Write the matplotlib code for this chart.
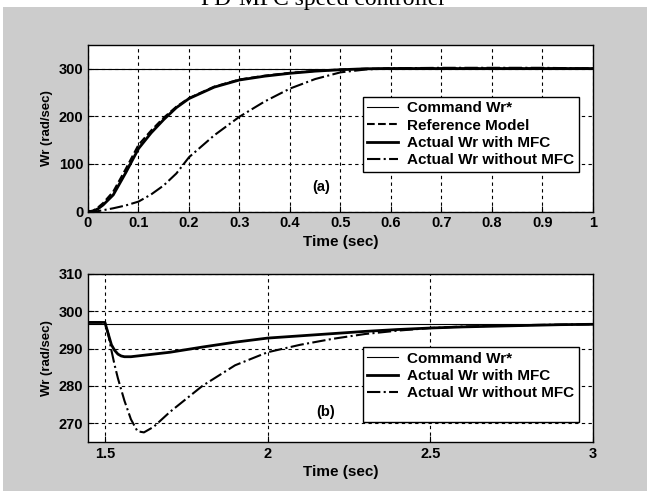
import matplotlib.pyplot as plt
from matplotlib.lines import Line2D
from matplotlib.patches import Rectangle

plt.rcParams['font.family'] = ['Liberation Sans', 'DejaVu Sans']
plt.rcParams['font.weight'] = 'bold'

# ---- panel (a): start-up response ----
t_a = [0, 0.01, 0.02, 0.03, 0.05, 0.075, 0.1, 0.125, 0.15, 0.175, 0.2,
       0.25, 0.3, 0.35, 0.4, 0.45, 0.5, 0.55, 0.6, 0.7, 0.8, 0.9, 1.0]
cmd_a = [300] * len(t_a)
ref_a = [0, 2, 9, 18, 42, 90, 140, 170, 197, 220, 238,
         262, 277, 285, 291, 295, 298, 299.5, 300, 300, 300, 300, 300]
mfc_a = [0, 1, 6, 14, 35, 82, 132, 165, 193, 218, 237,
         261, 276, 284, 290, 294.5, 297.5, 299.5, 300, 300, 300, 300, 300]
nomfc_a = [0, 0, 1, 3, 7, 13, 21, 36, 55, 80, 114,
           160, 199, 231, 258, 278, 292, 298, 300.5, 301.5, 301.5, 301.5, 300]

# ---- panel (b): load disturbance ----
t_b = [1.45, 1.5, 1.51, 1.52, 1.53, 1.54, 1.55, 1.56, 1.58, 1.6, 1.62,
       1.65, 1.7, 1.8, 1.9, 2.0, 2.1, 2.2, 2.3, 2.4, 2.5, 2.6, 2.7,
       2.8, 2.9, 3.0]
cmd_b = [296.6] * len(t_b)
mfc_b = [297, 297, 294, 291, 289.5, 288.5, 288, 287.8, 287.8, 288, 288.2,
         288.5, 289, 290.4, 291.7, 292.8, 293.4, 294, 294.6, 295.1, 295.5,
         295.8, 296, 296.2, 296.4, 296.5]
nomfc_b = [297, 297, 294, 289.5, 285.5, 282, 279, 276, 271, 267.8, 267.5,
           269, 273, 280, 285.5, 289, 291, 292.6, 293.9, 294.8, 295.5,
           295.9, 296.1, 296.3, 296.4, 296.5]

fig = plt.figure(figsize=(6.47, 4.91), dpi=100)
fig.patch.set_facecolor('white')
fig.patches.append(Rectangle((3 / 647, 0), 1, (491 - 7) / 491,
                             transform=fig.transFigure, facecolor='#cccccc',
                             edgecolor='none', zorder=-10))
fig.text(0.5, (491 - 5) / 491, 'PD-MFC speed controller', ha='center',
         va='baseline', family='Liberation Serif', weight='normal', fontsize=17)

ax1 = fig.add_axes([0.136, 0.569, 0.7805, 0.340])
ax2 = fig.add_axes([0.136, 0.1004, 0.7805, 0.3416])

grid_kw = dict(color='black', linestyle=(0, (3, 3)), linewidth=0.8)
leg_kw = dict(loc='upper right', fontsize=11, frameon=True, fancybox=False,
              edgecolor='black', framealpha=1, handlelength=2.0,
              borderpad=0.3, labelspacing=0.22, handletextpad=0.6,
              borderaxespad=0)

ax1.plot(t_a, cmd_a, color='black', lw=0.8, label='Command Wr*')
ax1.plot(t_a, ref_a, color='black', lw=1.5, ls='--', label='Reference Model')
ax1.plot(t_a, mfc_a, color='black', lw=2.0, label='Actual Wr with MFC')
ax1.plot(t_a, nomfc_a, color='black', lw=1.5, ls='-.', label='Actual Wr without MFC')
ax1.set_xlim(0, 1)
ax1.set_ylim(0, 350)
ax1.set_xticks([0, 0.1, 0.2, 0.3, 0.4, 0.5, 0.6, 0.7, 0.8, 0.9, 1])
ax1.set_xticklabels(['0', '0.1', '0.2', '0.3', '0.4', '0.5', '0.6', '0.7', '0.8', '0.9', '1'])
ax1.set_yticks([0, 100, 200, 300])
ax1.set_xlabel('Time (sec)', fontsize=11, fontweight='bold', labelpad=3)
ax1.set_ylabel('Wr (rad/sec)', fontsize=9.5, fontweight='bold', labelpad=4)
ax1.text(0.462, 0.15, '(a)', transform=ax1.transAxes, fontsize=10.5,
         fontweight='bold', ha='center', va='center')
ax1.legend(bbox_to_anchor=(0.972, 0.689), **leg_kw)

ax2.plot(t_b, cmd_b, color='black', lw=0.8, label='Command Wr*')
ax2.plot(t_b, mfc_b, color='black', lw=2.0, label='Actual Wr with MFC')
ax2.plot(t_b, nomfc_b, color='black', lw=1.5, ls='-.', label='Actual Wr without MFC')
ax2.set_xlim(1.448, 3)
ax2.set_ylim(265, 310)
ax2.set_xticks([1.5, 2, 2.5, 3])
ax2.set_xticklabels(['1.5', '2', '2.5', '3'])
ax2.set_yticks([270, 280, 290, 300, 310])
ax2.set_xlabel('Time (sec)', fontsize=11, fontweight='bold', labelpad=3)
ax2.set_ylabel('Wr (rad/sec)', fontsize=9.5, fontweight='bold', labelpad=4)
ax2.text(0.47, 0.18, '(b)', transform=ax2.transAxes, fontsize=10.5,
         fontweight='bold', ha='center', va='center')
h, l = ax2.get_legend_handles_labels()
h.append(Line2D([], [], color='none'))
l.append(' ')
ax2.legend(h, l, bbox_to_anchor=(0.972, 0.565), **leg_kw)

for ax in (ax1, ax2):
    ax.set_facecolor('white')
    ax.grid(True, **grid_kw)
    ax.tick_params(direction='in', length=4, labelsize=10.5, colors='black')
    for lab in ax.get_xticklabels() + ax.get_yticklabels():
        lab.set_fontweight('bold')
    for s in ax.spines.values():
        s.set_color('black')
        s.set_linewidth(1.0)

fig.savefig('out.png', dpi=100)
